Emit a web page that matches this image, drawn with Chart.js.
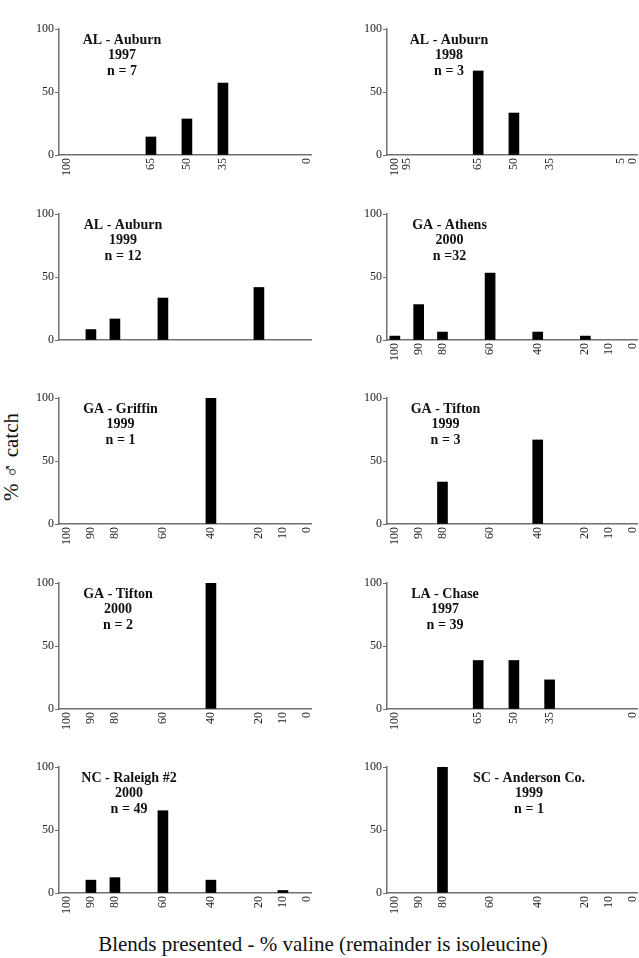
<!DOCTYPE html>
<html>
<head>
<meta charset="utf-8">
<script src="https://cdn.jsdelivr.net/npm/chart.js@4.4.1/dist/chart.umd.min.js"></script>
<style>
  html, body { margin: 0; padding: 0; background: #fff; }
  body { width: 639px; height: 958px; position: relative; overflow: hidden; }
  canvas { position: absolute; }
  .lbl { position: absolute; font-family: "Liberation Serif", "Times New Roman", serif; color: #111; white-space: nowrap; }
</style>
</head>
<body>
<div class="lbl" id="ylab" style="font-size:21px; left:11px; top:457px; transform: translate(-50%,-50%) rotate(-90deg);">% ♂ catch</div>
<div class="lbl" id="xlab" style="font-size:21px; left:323px; top:944px; transform: translate(-50%,-50%);">Blends presented - % valine (remainder is isoleucine)</div>
<script>
// ---------- data ----------
const siteNames = ["AL - Auburn", "AL - Auburn", "AL - Auburn", "GA - Athens", "GA - Griffin",
                   "GA - Tifton", "GA - Tifton", "LA - Chase", "NC - Raleigh #2", "SC - Anderson Co."];
const siteYears = ["1997", "1998", "1999", "2000", "1999", "1999", "2000", "1997", "2000", "1999"];
const siteN = ["n = 7", "n = 3", "n = 12", "n =32", "n = 1", "n = 3", "n = 2", "n = 39", "n = 49", "n = 1"];

const alAuburn97Blends = [65, 50, 35];
const alAuburn97Catch  = [14.3, 28.6, 57.1];
const alAuburn97Ticks  = [100, 65, 50, 35, 0];

const alAuburn98Blends = [65, 50];
const alAuburn98Catch  = [66.7, 33.3];
const alAuburn98Ticks  = [100, 95, 65, 50, 35, 5, 0];

const alAuburn99Blends = [90, 80, 60, 20];
const alAuburn99Catch  = [8.3, 16.7, 33.3, 41.7];
const alAuburn99Ticks  = [];

const gaAthens00Blends = [100, 90, 80, 60, 40, 20];
const gaAthens00Catch  = [3.1, 28.1, 6.3, 53.1, 6.3, 3.1];
const gaAthens00Ticks  = [100, 90, 80, 60, 40, 20, 10, 0];

const gaGriffin99Blends = [40];
const gaGriffin99Catch  = [100];
const gaGriffin99Ticks  = [100, 90, 80, 60, 40, 20, 10, 0];

const gaTifton99Blends = [80, 40];
const gaTifton99Catch  = [33.3, 66.7];
const gaTifton99Ticks  = [100, 90, 80, 60, 40, 20, 10, 0];

const gaTifton00Blends = [40];
const gaTifton00Catch  = [100];
const gaTifton00Ticks  = [100, 90, 80, 60, 40, 20, 10, 0];

const laChase97Blends = [65, 50, 35];
const laChase97Catch  = [38.5, 38.5, 23.1];
const laChase97Ticks  = [100, 65, 50, 35, 0];

const ncRaleigh00Blends = [90, 80, 60, 40, 10];
const ncRaleigh00Catch  = [10.2, 12.2, 65.3, 10.2, 2.0];
const ncRaleigh00Ticks  = [100, 90, 80, 60, 40, 20, 10, 0];

const scAnderson99Blends = [80];
const scAnderson99Catch  = [100];
const scAnderson99Ticks  = [100, 90, 80, 60, 40, 20, 10, 0];

const yTickValues = [0, 50, 100];

const panelBlends = [alAuburn97Blends, alAuburn98Blends, alAuburn99Blends, gaAthens00Blends, gaGriffin99Blends,
                     gaTifton99Blends, gaTifton00Blends, laChase97Blends, ncRaleigh00Blends, scAnderson99Blends];
const panelCatch  = [alAuburn97Catch, alAuburn98Catch, alAuburn99Catch, gaAthens00Catch, gaGriffin99Catch,
                     gaTifton99Catch, gaTifton00Catch, laChase97Catch, ncRaleigh00Catch, scAnderson99Catch];
const panelTicks  = [alAuburn97Ticks, alAuburn98Ticks, alAuburn99Ticks, gaAthens00Ticks, gaGriffin99Ticks,
                     gaTifton99Ticks, gaTifton00Ticks, laChase97Ticks, ncRaleigh00Ticks, scAnderson99Ticks];

// ---------- layout (pixels) ----------
const colAxisX = [59, 387];
const colPlotW = [252, 250];
const rowTop = [29, 214, 398, 583, 767];
const plotH = 126;
const yAxisW = 32, xAxisH = 30, padTop = 8;
const titleOffsetX = [63, 62, 64, 62.5, 61.5, 58.5, 59, 58, 70, 142];

const serif = '"Liberation Serif", "Times New Roman", serif';
const axisColor = '#707070';

const titlePlugin = {
  id: 'panelTitle',
  afterDatasetsDraw(chart, args, opts) {
    const ctx = chart.ctx, a = chart.chartArea;
    ctx.save();
    ctx.fillStyle = '#111';
    ctx.font = 'bold 14px ' + serif;
    ctx.textAlign = 'center';
    ctx.textBaseline = 'alphabetic';
    opts.lines.forEach((t, i) => ctx.fillText(t, a.left + opts.dx, a.top + 14.5 + i * 15.5));
    ctx.restore();
  }
};

for (let p = 0; p < 10; p++) {
  const col = p % 2, row = Math.floor(p / 2);
  const cv = document.createElement('canvas');
  const padRight = col === 0 ? 6 : 2;
  const w = yAxisW + colPlotW[col] + padRight;
  const h = padTop + plotH + xAxisH;
  cv.width = w; cv.height = h;
  cv.style.width = w + 'px'; cv.style.height = h + 'px';
  cv.style.left = (colAxisX[col] - yAxisW) + 'px';
  cv.style.top = (rowTop[row] - padTop) + 'px';
  document.body.appendChild(cv);

  const ticksList = panelTicks[p];
  new Chart(cv, {
    type: 'bar',
    data: {
      datasets: [{
        data: panelBlends[p].map((b, i) => ({ x: b, y: panelCatch[p][i] })),
        backgroundColor: '#000',
        borderWidth: 0,
        barThickness: 10
      }]
    },
    plugins: [titlePlugin],
    options: {
      responsive: false,
      animation: false,
      devicePixelRatio: 1,
      layout: { padding: { top: padTop, right: padRight, left: 0, bottom: 0 } },
      plugins: {
        legend: { display: false },
        tooltip: { enabled: false },
        panelTitle: { lines: [siteNames[p], siteYears[p], siteN[p]], dx: titleOffsetX[p] }
      },
      scales: {
        x: {
          type: 'linear',
          reverse: true,
          min: -1.7,
          max: 103.3,
          offset: false,
          grid: { display: false, drawTicks: false },
          border: { display: true, color: axisColor, width: 1.5 },
          ticks: {
            display: ticksList.length > 0,
            autoSkip: false,
            minRotation: 90,
            maxRotation: 90,
            padding: 3,
            color: '#222',
            font: { family: serif, size: 12 },
            callback: v => String(v)
          },
          afterBuildTicks: s => { if (ticksList.length) s.ticks = ticksList.map(v => ({ value: v })); },
          afterFit: s => { s.height = xAxisH; s.paddingLeft = 0; s.paddingRight = 0; }
        },
        y: {
          min: 0,
          max: 100,
          grid: { display: true, drawOnChartArea: false, drawTicks: true, tickLength: 4, color: axisColor, lineWidth: 1 },
          border: { display: true, color: axisColor, width: 1.5 },
          ticks: {
            padding: 1,
            color: '#222',
            font: { family: serif, size: 12 },
            callback: v => String(v)
          },
          afterBuildTicks: s => { s.ticks = yTickValues.map(v => ({ value: v })); },
          afterFit: s => { s.width = yAxisW; s.paddingTop = 0; s.paddingBottom = 0; }
        }
      }
    }
  });
}
</script>
</body>
</html>
